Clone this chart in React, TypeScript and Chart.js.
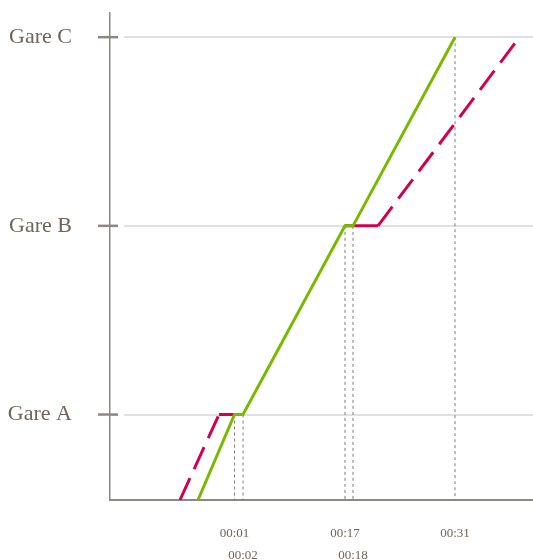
import React, { useEffect, useRef } from "react";
import { Chart, registerables } from "chart.js";

Chart.register(...registerables);

// Stations (y axis)
const stationLabels = ["Gare A", "Gare B", "Gare C"];
const stationValues = [0, 1, 2];

// Planned run (green): time in minutes, position in station index
const plannedTimes = [-3.97, 1.0, 2.16, 16.03, 17.12, 31.0];
const plannedPositions = [-0.453, 0, 0, 1, 1, 2];

// Actual / delayed run (red)
const actualTimes = [-6.42, -1.11, 2.16, 16.03, 20.52, 39.78];
const actualPositions = [-0.453, 0, 0, 1, 1, 2];
const actualDashedSegments = [0, 4];
const actualHiddenSegments = [2];

// Stop marks on the time axis
const stopTimes = [1.0, 2.16, 16.03, 17.12, 31.0];
const stopStations = [0, 0, 1, 1, 2];
const stopLabels = ["00:01", "00:02", "00:17", "00:18", "00:31"];

const X_MIN = -15.94;
const X_MAX = 41.61;
const Y_MIN = -0.453;
const Y_MAX = 2.127;

const GREEN = "#79b900";
const RED = "#d4004f";
const AXIS = "#8d8883";
const TEXT = "#6d655d";

const stationTicksPlugin = {
  id: "stationTicks",
  afterDraw(chart: any) {
    const y = chart.scales.y;
    const left = chart.chartArea.left;
    const ctx = chart.ctx;
    ctx.save();
    y.ticks.forEach((t: any) => {
      const py = y.getPixelForValue(t.value);
      ctx.strokeStyle = "#ffffff";
      ctx.lineWidth = 3;
      ctx.beginPath();
      ctx.moveTo(left + 8, py);
      ctx.lineTo(left + 14, py);
      ctx.stroke();
      ctx.strokeStyle = AXIS;
      ctx.lineWidth = 2.5;
      ctx.beginPath();
      ctx.moveTo(left - 12, py);
      ctx.lineTo(left + 8, py);
      ctx.stroke();
    });
    ctx.restore();
  },
};

export default function App() {
  const ref = useRef<HTMLCanvasElement | null>(null);

  useEffect(() => {
    if (!ref.current) return;
    const planned = plannedTimes.map((t, i) => ({ x: t, y: plannedPositions[i] }));
    const actual = actualTimes.map((t, i) => ({ x: t, y: actualPositions[i] }));
    const stopLines = stopTimes.map((t, i) => ({
      type: "line" as const,
      data: [
        { x: t, y: stopStations[i] },
        { x: t, y: Y_MIN },
      ],
      borderColor: "#7d7d7d",
      borderWidth: 1,
      borderDash: [3, 3],
      pointRadius: 0,
    }));

    const chart = new Chart(ref.current, {
      type: "line",
      data: {
        datasets: [
          {
            data: planned,
            borderColor: GREEN,
            borderWidth: 3,
            pointRadius: 0,
          },
          {
            data: actual,
            borderColor: RED,
            borderWidth: 3,
            pointRadius: 0,
            segment: {
              borderDash: (ctx: any) =>
                actualDashedSegments.includes(ctx.p0DataIndex) ? [24, 10] : undefined,
              borderColor: (ctx: any) =>
                actualHiddenSegments.includes(ctx.p0DataIndex) ? "rgba(0,0,0,0)" : undefined,
            },
          } as any,
          ...stopLines,
        ],
      },
      options: {
        animation: false,
        responsive: false,
        maintainAspectRatio: false,
        layout: { padding: { top: 13, left: 0, right: 0, bottom: 0 } },
        plugins: { legend: { display: false }, tooltip: { enabled: false } },
        scales: {
          x: {
            type: "linear",
            min: X_MIN,
            max: X_MAX,
            afterFit: (scale: any) => {
              scale.height = 60;
            },
            afterBuildTicks: (scale: any) => {
              scale.ticks = stopTimes.map((v) => ({ value: v }));
            },
            grid: { display: false },
            border: { display: true, color: AXIS, width: 2 },
            ticks: {
              autoSkip: false,
              maxRotation: 0,
              padding: 15,
              color: TEXT,
              font: { family: "'Liberation Serif', serif", size: 13, lineHeight: 22 / 13 },
              callback: (_v: any, i: number) => (i % 2 === 0 ? [stopLabels[i]] : ["", stopLabels[i]]),
            },
          },
          y: {
            type: "linear",
            min: Y_MIN,
            max: Y_MAX,
            afterFit: (scale: any) => {
              scale.width = 110;
            },
            afterBuildTicks: (scale: any) => {
              scale.ticks = stationValues.map((v) => ({ value: v }));
            },
            grid: {
              display: true,
              drawTicks: true,
              tickLength: 38,
              tickColor: "rgba(0,0,0,0)",
              color: "#c2c2c2",
              lineWidth: 2,
            },
            border: { display: true, color: AXIS, width: 1.5, dash: [1, 1] },
            ticks: {
              padding: 0,
              color: TEXT,
              font: { family: "'Liberation Serif', serif", size: 22 },
              callback: (_v: any, i: number) => stationLabels[i],
            },
          },
        },
      },
      plugins: [stationTicksPlugin],
    });
    return () => chart.destroy();
  }, []);

  return (
    <canvas
      ref={ref}
      width={533}
      height={560}
      style={{ position: "absolute", left: 0, top: 0, display: "block" }}
    />
  );
}
